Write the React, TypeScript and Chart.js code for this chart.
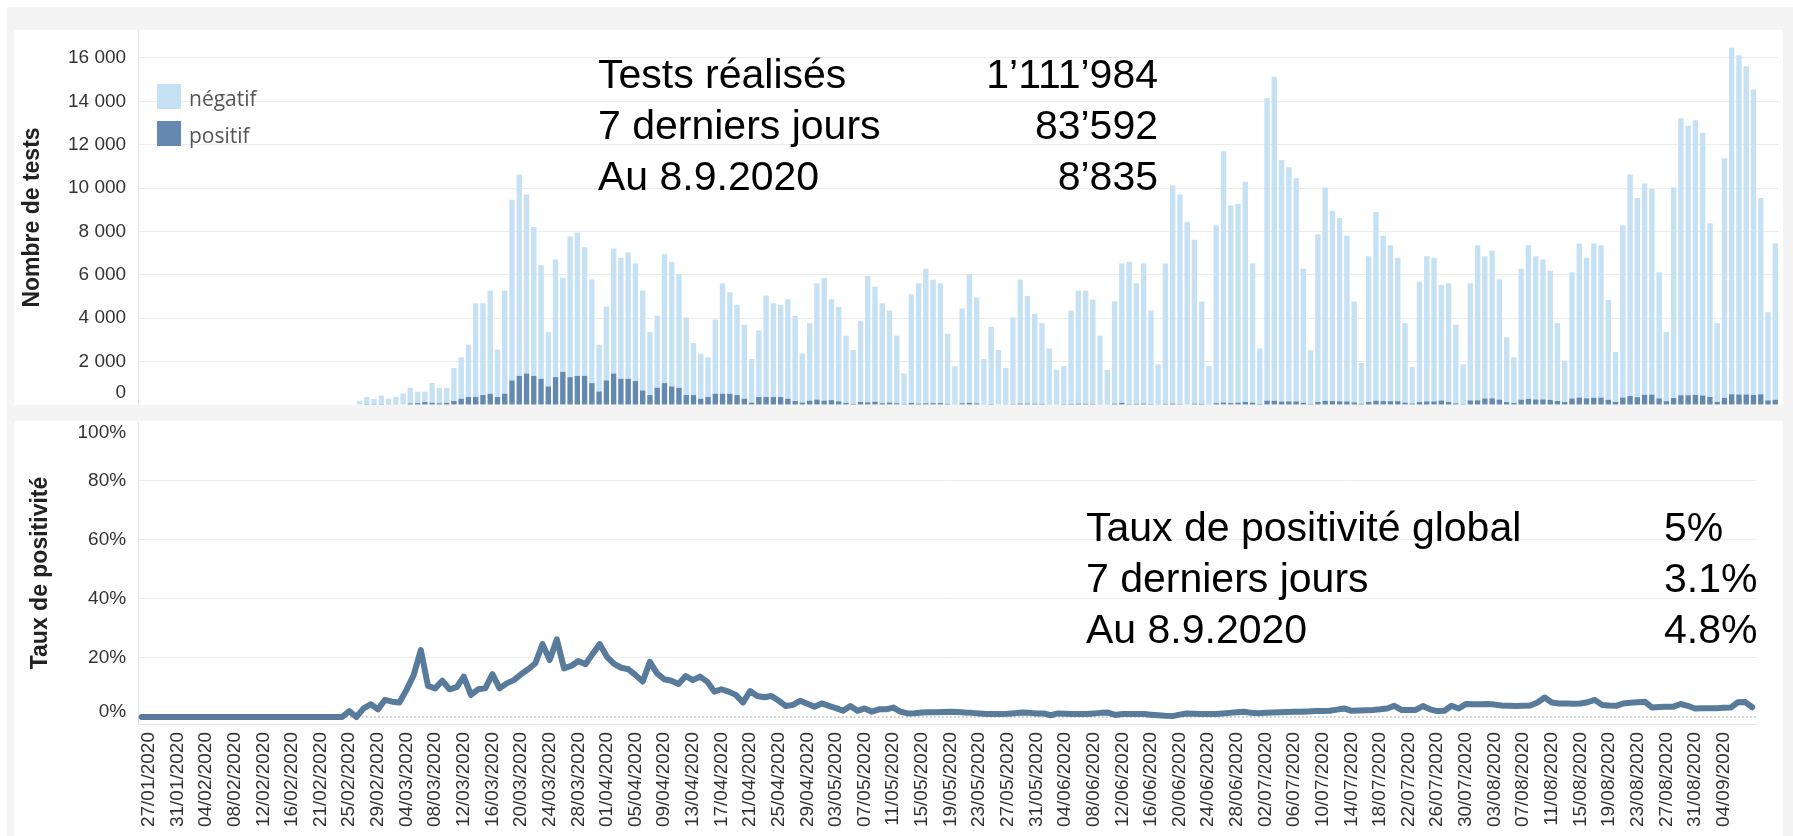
import React, { useEffect, useRef } from 'react';
import { Chart, registerables } from 'chart.js';

Chart.register(...registerables);

// ---------------- data ----------------
const FIRST_DAY_UTC = Date.UTC(2020, 0, 26);
const LAST_DAY_UTC = Date.UTC(2020, 8, 8);
const SKIPPED_DATES = ['20/02/2020'];

function buildDates(): string[] {
  const out: string[] = [];
  const d = new Date(FIRST_DAY_UTC);
  const pad = (n: number) => (n < 10 ? '0' + n : '' + n);
  while (d.getTime() <= LAST_DAY_UTC) {
    const s = `${pad(d.getUTCDate())}/${pad(d.getUTCMonth() + 1)}/${d.getUTCFullYear()}`;
    if (!SKIPPED_DATES.includes(s)) out.push(s);
    d.setUTCDate(d.getUTCDate() + 1);
  }
  return out;
}
const DATES = buildDates();

const X_TICK_LABELS = [
  '27/01/2020', '31/01/2020', '04/02/2020', '08/02/2020', '12/02/2020', '16/02/2020', '21/02/2020',
  '25/02/2020', '29/02/2020', '04/03/2020', '08/03/2020', '12/03/2020', '16/03/2020', '20/03/2020',
  '24/03/2020', '28/03/2020', '01/04/2020', '05/04/2020', '09/04/2020', '13/04/2020', '17/04/2020',
  '21/04/2020', '25/04/2020', '29/04/2020', '03/05/2020', '07/05/2020', '11/05/2020', '15/05/2020',
  '19/05/2020', '23/05/2020', '27/05/2020', '31/05/2020', '04/06/2020', '08/06/2020', '12/06/2020',
  '16/06/2020', '20/06/2020', '24/06/2020', '28/06/2020', '02/07/2020', '06/07/2020', '10/07/2020',
  '14/07/2020', '18/07/2020', '22/07/2020', '26/07/2020', '30/07/2020', '03/08/2020', '07/08/2020',
  '11/08/2020', '15/08/2020', '19/08/2020', '23/08/2020', '27/08/2020', '31/08/2020', '04/09/2020',
];

// tests négatifs per day
const NEGATIF = [
  0, 0, 0, 0, 0, 0, 0, 0, 0, 0, 0, 0, 0, 0, 0, 0, 0, 0, 0, 0, 0, 0, 0, 0, 0, 0, 0, 0, 0, 0,
  180, 357, 263, 430, 272, 348, 506, 721, 523, 472,
  916, 717, 696, 1528, 1912, 2414, 4326, 4234, 4756, 2185,
  4756, 8333, 9281, 8256, 6866, 5245, 2507, 5427, 4343, 6497,
  6606, 5932, 4784, 2157, 3411, 5764, 5582, 5826, 5426, 4604,
  2903, 3318, 5946, 5750, 5244, 3577, 2399, 2078, 1834, 3426,
  5092, 4679, 4157, 3409, 2014, 3073, 4678, 4326, 4249, 4587,
  3929, 2257, 3575, 5360, 5670, 4651, 4353, 3094, 2484, 3727,
  5822, 5309, 4609, 4245, 3111, 1405, 5014, 5543, 6204, 5694,
  5520, 3231, 1759, 4369, 5924, 4879, 2094, 3562, 2512, 1694,
  3996, 5714, 4964, 4143, 3720, 2584, 1599, 1779, 4308, 5214,
  5219, 4812, 3162, 1599, 4721, 6427, 6560, 5555, 6462, 4313,
  1846, 6477, 10060, 9667, 8429, 7554, 4715, 1769, 8186, 11582,
  9113, 9170, 10145, 6422, 2569, 13942, 14942, 11138, 10798, 10293,
  6193, 2478, 7731, 9837, 8778, 8454, 7633, 4650, 1885, 6717,
  8704, 7618, 7192, 6614, 3665, 1692, 5553, 6697, 6624, 5327,
  5465, 3622, 1822, 5400, 7152, 6562, 6819, 5543, 2984, 2112,
  6039, 7087, 6607, 6456, 5952, 3590, 1911, 5814, 7105, 6479,
  7110, 7027, 4604, 2305, 7944, 10209, 9181, 9741, 9474, 5809,
  3187, 9707, 12774, 12421, 12673, 12110, 8006, 3630, 11046, 15972,
  15643, 15138, 14076, 9046, 4065, 7205,
];

// tests positifs per day
const POSITIF = [
  0, 0, 0, 0, 0, 0, 0, 0, 0, 0, 0, 0, 0, 0, 0, 0, 0, 0, 0, 0, 0, 0, 0, 0, 0, 0, 0, 0, 0, 0,
  0, 10, 12, 11, 17, 19, 26, 73, 87, 138,
  107, 77, 98, 183, 289, 367, 367, 459, 518, 367,
  518, 1130, 1344, 1451, 1344, 1206, 855, 1284, 1527, 1284,
  1344, 1344, 1009, 624, 1130, 1451, 1206, 1206, 1101, 670,
  459, 794, 1009, 855, 794, 459, 459, 289, 367, 518,
  518, 518, 459, 289, 110, 367, 367, 367, 367, 289,
  183, 110, 200, 250, 200, 225, 172, 100, 53, 140,
  125, 150, 84, 113, 83, 46, 92, 67, 80, 85,
  90, 55, 30, 80, 100, 75, 30, 45, 25, 17,
  40, 65, 65, 60, 55, 30, 20, 10, 50, 60,
  55, 50, 32, 20, 65, 100, 45, 55, 65, 45,
  18, 50, 60, 40, 25, 60, 55, 20, 85, 115,
  90, 110, 145, 105, 45, 200, 195, 160, 165, 165,
  105, 45, 140, 190, 180, 170, 165, 120, 55, 145,
  195, 180, 175, 175, 110, 65, 135, 165, 165, 205,
  145, 75, 40, 210, 215, 300, 305, 250, 135, 90,
  245, 280, 255, 255, 240, 185, 135, 300, 340, 310,
  335, 340, 240, 140, 340, 415, 360, 470, 480, 305,
  175, 320, 450, 450, 460, 440, 370, 145, 330, 495,
  485, 485, 465, 495, 215, 240,
];

// taux de positivité (%) per day
const TAUX = [
  0, 0, 0, 0, 0, 0, 0, 0, 0, 0, 0, 0, 0, 0, 0, 0, 0, 0, 0, 0, 0, 0, 0, 0, 0, 0, 0, 0, 0,
  2.0,
  0, 2.9, 4.3, 2.6, 5.8, 5.2, 4.9, 9.2, 14.2, 22.7,
  10.5, 9.7, 12.3, 9.4, 10.1, 13.7, 7.5, 9.4, 9.7, 14.5,
  9.7, 11.4, 12.5, 14.5, 16.2, 18.2, 24.7, 19.3, 26.3, 16.5,
  17.3, 19.0, 17.9, 21.4, 24.7, 20.4, 18.0, 16.7, 16.2, 14.2,
  12.0, 18.7, 14.8, 12.8, 12.3, 11.2, 13.9, 12.5, 13.7, 12.0,
  8.6, 9.4, 8.6, 7.5, 4.9, 8.8, 7.1, 6.7, 7.1, 5.5,
  3.7, 4.1, 5.5, 4.5, 3.5, 4.6, 3.8, 3.0, 2.1, 3.7,
  2.1, 2.9, 1.8, 2.6, 2.6, 3.2, 1.8, 1.2, 1.3, 1.5,
  1.6, 1.6, 1.7, 1.8, 1.7, 1.5, 1.4, 1.2, 1.0, 1.0,
  1.0, 1.1, 1.3, 1.5, 1.4, 1.2, 1.2, 0.6, 1.2, 1.1,
  1.0, 1.0, 1.0, 1.2, 1.4, 1.5, 0.7, 1.0, 1.0, 1.0,
  1.0, 0.8, 0.6, 0.4, 0.3, 0.8, 1.2, 1.1, 1.0, 1.0,
  1.0, 1.2, 1.4, 1.6, 1.8, 1.4, 1.3, 1.4, 1.5, 1.6,
  1.7, 1.8, 1.8, 1.9, 2.0, 2.0, 2.1, 2.5, 2.9, 2.1,
  2.2, 2.3, 2.4, 2.6, 2.9, 3.8, 2.4, 2.4, 2.4, 3.7,
  2.6, 2.0, 2.1, 3.8, 2.9, 4.4, 4.3, 4.3, 4.4, 4.2,
  3.9, 3.8, 3.7, 3.8, 3.9, 4.9, 6.6, 4.9, 4.6, 4.6,
  4.5, 4.6, 5.0, 5.8, 4.1, 3.9, 3.8, 4.6, 4.8, 5.0,
  5.2, 3.2, 3.4, 3.5, 3.5, 4.4, 3.8, 2.9, 3.0, 3.0,
  3.0, 3.1, 3.2, 5.0, 5.1, 3.3,
];

const TOP_Y_TICKS = [0, 2000, 4000, 6000, 8000, 10000, 12000, 14000, 16000];
const TOP_Y_LABELS = ['0', '2 000', '4 000', '6 000', '8 000', '10 000', '12 000', '14 000', '16 000'];
const BOT_Y_TICKS = [0, 20, 40, 60, 80, 100];
const BOT_Y_LABELS = ['0%', '20%', '40%', '60%', '80%', '100%'];

const TOP_STATS: [string, string][] = [
  ['Tests réalisés', '1’111’984'],
  ['7 derniers jours', '83’592'],
  ['Au 8.9.2020', '8’835'],
];
const BOT_STATS: [string, string][] = [
  ['Taux de positivité global', '5%'],
  ['7 derniers jours', '3.1%'],
  ['Au 8.9.2020', '4.8%'],
];

// ---------------- style ----------------
const FONT = "'Liberation Sans', Arial, Helvetica, sans-serif";
const NEG_COLOR = '#c6e1f4';
const POS_COLOR = '#6389b1';
const LINE_COLOR = '#587a9b';
const GRID_COLOR = '#ececec';
const AXIS_LINE = '#e4e4e4';
const TICK_COLOR = '#333333';
const PAGE_BG = '#f4f4f4';

const PANEL_LEFT = 14;
const PANEL_W = 1769;
const TOP_PANEL_TOP = 30;
const TOP_PANEL_H = 375;
const BOT_PANEL_TOP = 421;
const BOT_PANEL_H = 415;
const AREA_LEFT = 124.1; // chart area left inside panel
const PAD_RIGHT = 4.1;
const TOP_Y_MAX = 17290;

function yLabelPlugin(values: number[], labels: string[]) {
  return {
    id: 'ylabels',
    afterDraw(chart: any) {
      const s = chart.scales.y;
      const { ctx, chartArea } = chart;
      ctx.save();
      ctx.font = `19px ${FONT}`;
      ctx.fillStyle = TICK_COLOR;
      ctx.textAlign = 'right';
      ctx.textBaseline = 'middle';
      values.forEach((v, i) => {
        let y = s.getPixelForValue(v);
        y = Math.min(Math.max(y, chartArea.top + 11), chartArea.bottom - 12);
        ctx.fillText(labels[i], chartArea.left - 12, y);
      });
      ctx.restore();
    },
  };
}

const zeroLinePlugin = {
  id: 'zeroline',
  beforeDatasetsDraw(chart: any) {
    const { ctx, chartArea } = chart;
    const y = chart.scales.y.getPixelForValue(0);
    ctx.save();
    ctx.strokeStyle = '#b8b8b8';
    ctx.lineWidth = 1.5;
    ctx.setLineDash([1.5, 2.5]);
    ctx.beginPath();
    ctx.moveTo(chartArea.left, y);
    ctx.lineTo(chartArea.right, y);
    ctx.stroke();
    ctx.restore();
  },
};

const LABEL_SET = new Set(X_TICK_LABELS);

export default function App() {
  const topRef = useRef<HTMLCanvasElement>(null);
  const botRef = useRef<HTMLCanvasElement>(null);

  useEffect(() => {
    const top = new Chart(topRef.current as HTMLCanvasElement, {
      type: 'bar',
      data: {
        labels: DATES,
        datasets: [
          { label: 'positif', data: POSITIF, backgroundColor: POS_COLOR, barPercentage: 0.74, categoryPercentage: 1 },
          { label: 'négatif', data: NEGATIF, backgroundColor: NEG_COLOR, barPercentage: 0.74, categoryPercentage: 1 },
        ],
      },
      options: {
        animation: false,
        responsive: false,
        maintainAspectRatio: false,
        events: [],
        layout: { padding: { left: 5, right: PAD_RIGHT, top: 0, bottom: 0 }, autoPadding: false },
        plugins: { legend: { display: false }, tooltip: { enabled: false } },
        scales: {
          x: { stacked: true, display: false, offset: true },
          y: {
            stacked: true,
            min: 0,
            max: TOP_Y_MAX,
            afterBuildTicks: (s: any) => { s.ticks = TOP_Y_TICKS.map((v) => ({ value: v })); },
            afterFit: (s: any) => { s.width = AREA_LEFT - 5; },
            ticks: { display: false },
            grid: {
              color: (c: any) => (c.tick && c.tick.value === 0 ? 'rgba(0,0,0,0)' : GRID_COLOR),
              drawTicks: false,
              lineWidth: 1,
            },
            border: { display: true, color: AXIS_LINE },
            title: {
              display: true,
              text: 'Nombre de tests',
              font: { family: FONT, size: 23, weight: 'bold' },
              color: '#222222',
              padding: 0,
            },
          },
        },
      } as any,
      plugins: [yLabelPlugin(TOP_Y_TICKS, TOP_Y_LABELS)],
    });

    const bot = new Chart(botRef.current as HTMLCanvasElement, {
      type: 'line',
      data: {
        labels: DATES,
        datasets: [
          {
            label: 'Taux de positivité',
            data: TAUX,
            borderColor: LINE_COLOR,
            backgroundColor: LINE_COLOR,
            borderWidth: 6,
            pointRadius: 0,
            tension: 0,
            fill: false,
            borderCapStyle: 'round',
            borderJoinStyle: 'round',
          },
        ],
      },
      options: {
        animation: false,
        responsive: false,
        maintainAspectRatio: false,
        events: [],
        layout: { padding: { left: 13, right: PAD_RIGHT, top: 1, bottom: 0 }, autoPadding: false },
        plugins: { legend: { display: false }, tooltip: { enabled: false } },
        scales: {
          x: {
            offset: true,
            afterFit: (s: any) => { s.height = 112; },
            grid: { display: false, drawTicks: false },
            border: { display: true, color: AXIS_LINE },
            ticks: {
              autoSkip: false,
              maxRotation: 90,
              minRotation: 90,
              padding: 8,
              color: TICK_COLOR,
              font: { family: FONT, size: 19 },
              callback: (_v: any, i: number) => (LABEL_SET.has(DATES[i]) ? DATES[i] : ''),
            },
          },
          y: {
            min: -2.373,
            max: 100,
            afterBuildTicks: (s: any) => { s.ticks = BOT_Y_TICKS.map((v) => ({ value: v })); },
            afterFit: (s: any) => { s.width = AREA_LEFT - 13; },
            ticks: { display: false },
            grid: {
              color: (c: any) => (c.tick && c.tick.value > 0 && c.tick.value < 100 ? GRID_COLOR : 'rgba(0,0,0,0)'),
              drawTicks: false,
              lineWidth: 1,
            },
            border: { display: true, color: AXIS_LINE },
            title: {
              display: true,
              text: 'Taux de positivité',
              font: { family: FONT, size: 23, weight: 'bold' },
              color: '#222222',
              padding: 0,
            },
          },
        },
      } as any,
      plugins: [zeroLinePlugin, yLabelPlugin(BOT_Y_TICKS, BOT_Y_LABELS)],
    });

    return () => {
      top.destroy();
      bot.destroy();
    };
  }, []);

  const statFont = `41px ${FONT}`;

  return (
    <div style={{ position: 'fixed', left: 0, top: 0, width: 1793, height: 836, background: '#ffffff', overflow: 'hidden' }}>
      <div style={{ position: 'absolute', left: 7, top: 7, right: 0, bottom: 0, background: PAGE_BG }} />
      <div style={{ position: 'absolute', left: PANEL_LEFT, top: TOP_PANEL_TOP, width: PANEL_W, height: TOP_PANEL_H, background: '#ffffff' }}>
        <canvas ref={topRef} width={PANEL_W} height={TOP_PANEL_H} style={{ display: 'block' }} />
      </div>
      <div style={{ position: 'absolute', left: PANEL_LEFT, top: BOT_PANEL_TOP, width: PANEL_W, height: BOT_PANEL_H, background: '#ffffff' }}>
        <canvas ref={botRef} width={PANEL_W} height={BOT_PANEL_H} style={{ display: 'block' }} />
      </div>

      {/* legend */}
      <div style={{ position: 'absolute', left: 157, top: 84, width: 24, height: 25, background: NEG_COLOR }} />
      <div style={{ position: 'absolute', left: 189, top: 84, height: 25, lineHeight: '25px', font: `21px 'Open Sans', 'Noto Sans', sans-serif`, color: '#555555' }}>négatif</div>
      <div style={{ position: 'absolute', left: 157, top: 121, width: 24, height: 25, background: POS_COLOR }} />
      <div style={{ position: 'absolute', left: 189, top: 121, height: 25, lineHeight: '25px', font: `21px 'Open Sans', 'Noto Sans', sans-serif`, color: '#555555' }}>positif</div>

      {/* summary texts */}
      <div style={{ position: 'absolute', left: 598, top: 48.6, width: 560, font: statFont, lineHeight: '51px', color: '#000000' }}>
        {TOP_STATS.map(([k, v]) => (
          <div key={k} style={{ display: 'flex', justifyContent: 'space-between', whiteSpace: 'nowrap' }}>
            <span>{k}</span>
            <span>{v}</span>
          </div>
        ))}
      </div>
      <div style={{ position: 'absolute', left: 1086, top: 502, width: 680, font: statFont, lineHeight: '51px', color: '#000000' }}>
        {BOT_STATS.map(([k, v]) => (
          <div key={k} style={{ display: 'flex', whiteSpace: 'nowrap' }}>
            <span style={{ width: 578, display: 'inline-block' }}>{k}</span>
            <span>{v}</span>
          </div>
        ))}
      </div>
    </div>
  );
}
